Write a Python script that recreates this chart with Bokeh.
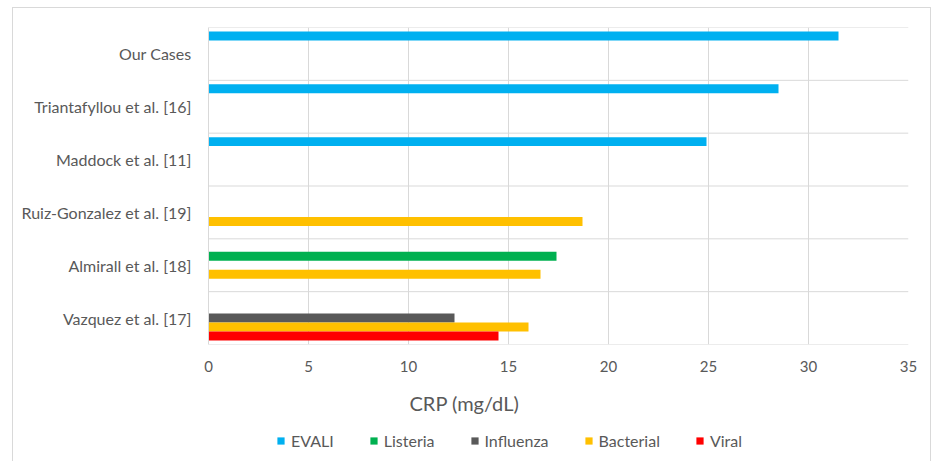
from bokeh.plotting import figure
from bokeh.layouts import column
from bokeh.models import (Range1d, FactorRange, Span, Legend, LegendItem, Title,
                          SingleIntervalTicker, ColumnDataSource)
from bokeh.transform import dodge
from bokeh.embed import file_html
from bokeh.resources import INLINE

# ---------------- data ----------------
categories = ["Vazquez et al. [17]", "Almirall et al. [18]", "Ruiz-Gonzalez et al. [19]",
              "Maddock et al. [11]", "Triantafyllou et al. [16]", "Our Cases"]
series = ["EVALI", "Listeria", "Influenza", "Bacterial", "Viral"]
evali = [None, None, None, 24.9, 28.5, 31.5]
listeria = [None, 17.4, None, None, None, None]
influenza = [12.3, None, None, None, None, None]
bacterial = [16.0, 16.6, 18.7, None, None, None]
viral = [14.5, None, None, None, None, None]
colors = ["#00B0F0", "#00B050", "#595959", "#FFC000", "#FF0000"]
x_min, x_max, x_step = 0, 35, 5
x_title = "CRP (mg/dL)"

values = [evali, listeria, influenza, bacterial, viral]

FONT = "Lato"
TXT = "#595959"
GRID = "#d9d9d9"
W = 917

p = figure(y_range=FactorRange(*categories), x_range=Range1d(x_min, x_max),
           frame_width=700, frame_height=317, output_backend="svg", toolbar_location=None,
           min_border_left=195, min_border_right=22, min_border_top=19, min_border_bottom=80)
p.outline_line_color = None
p.background_fill_color = "white"
p.border_fill_color = "white"

bar_h = 0.17
offsets = [2 * bar_h, bar_h, 0, -bar_h, -2 * bar_h]
for name, vals, col, off in zip(series, values, colors, offsets):
    cats = [c for c, v in zip(categories, vals) if v is not None]
    vv = [v for v in vals if v is not None]
    src = ColumnDataSource(dict(cat=cats, val=vv))
    p.hbar(y=dodge("cat", off, range=p.y_range), left=0, right="val", height=bar_h,
           fill_color=col, line_color=None, source=src)

# grid
p.xgrid.ticker = SingleIntervalTicker(interval=x_step)
p.xgrid.grid_line_color = GRID
p.ygrid.visible = False
for i in range(len(categories) + 1):
    p.add_layout(Span(location=i, dimension="width", line_color=GRID, line_width=1))

# axes
p.xaxis.ticker = SingleIntervalTicker(interval=x_step)
p.xaxis.axis_line_color = None
p.xaxis.major_tick_line_color = None
p.xaxis.minor_tick_line_color = None
p.xaxis.major_label_standoff = 10
p.xaxis.major_label_text_font = FONT
p.xaxis.major_label_text_font_size = "15px"
p.xaxis.major_label_text_color = TXT

p.yaxis.axis_line_color = GRID
p.yaxis.major_tick_line_color = None
p.yaxis.minor_tick_line_color = None
p.yaxis.major_label_standoff = 11
p.yaxis.major_label_text_font = FONT
p.yaxis.major_label_text_font_size = "16px"
p.yaxis.major_label_text_color = TXT

t = Title(text=x_title, align="left", offset=201, text_font=FONT, text_font_size="20px",
          text_font_style="normal", text_color=TXT, standoff=29)
p.add_layout(t, "below")

# ---------------- legend strip (swatch renderers sit outside the visible range) ----------------
lp = figure(width=W, height=36, x_range=Range1d(0, 1), y_range=Range1d(0, 1),
            output_backend="svg", toolbar_location=None,
            x_axis_location=None, y_axis_location=None,
            min_border_left=0, min_border_right=0, min_border_top=0, min_border_bottom=0)
lp.outline_line_color = None
lp.xgrid.visible = False
lp.ygrid.visible = False
lp.border_fill_color = "white"
items = []
for name, col in zip(series, colors):
    r = lp.hbar(y=[-5], left=[0], right=[1], height=0.1, fill_color=col, line_color=None)
    items.append(LegendItem(label=name, renderers=[r]))
legend = Legend(items=items, orientation="horizontal", location=(68, 15),
                glyph_width=9, glyph_height=9, label_standoff=6, spacing=35,
                padding=0, margin=0, border_line_color=None, background_fill_alpha=0,
                label_text_font=FONT, label_text_font_size="16px", label_text_color=TXT)
lp.add_layout(legend, "center")

layout = column(p, lp, spacing=0)
layout.styles = {"border": "1px solid #d9d9d9", "margin-left": "12px", "margin-top": "7px"}

open("out.html", "w").write(file_html(layout, INLINE))
